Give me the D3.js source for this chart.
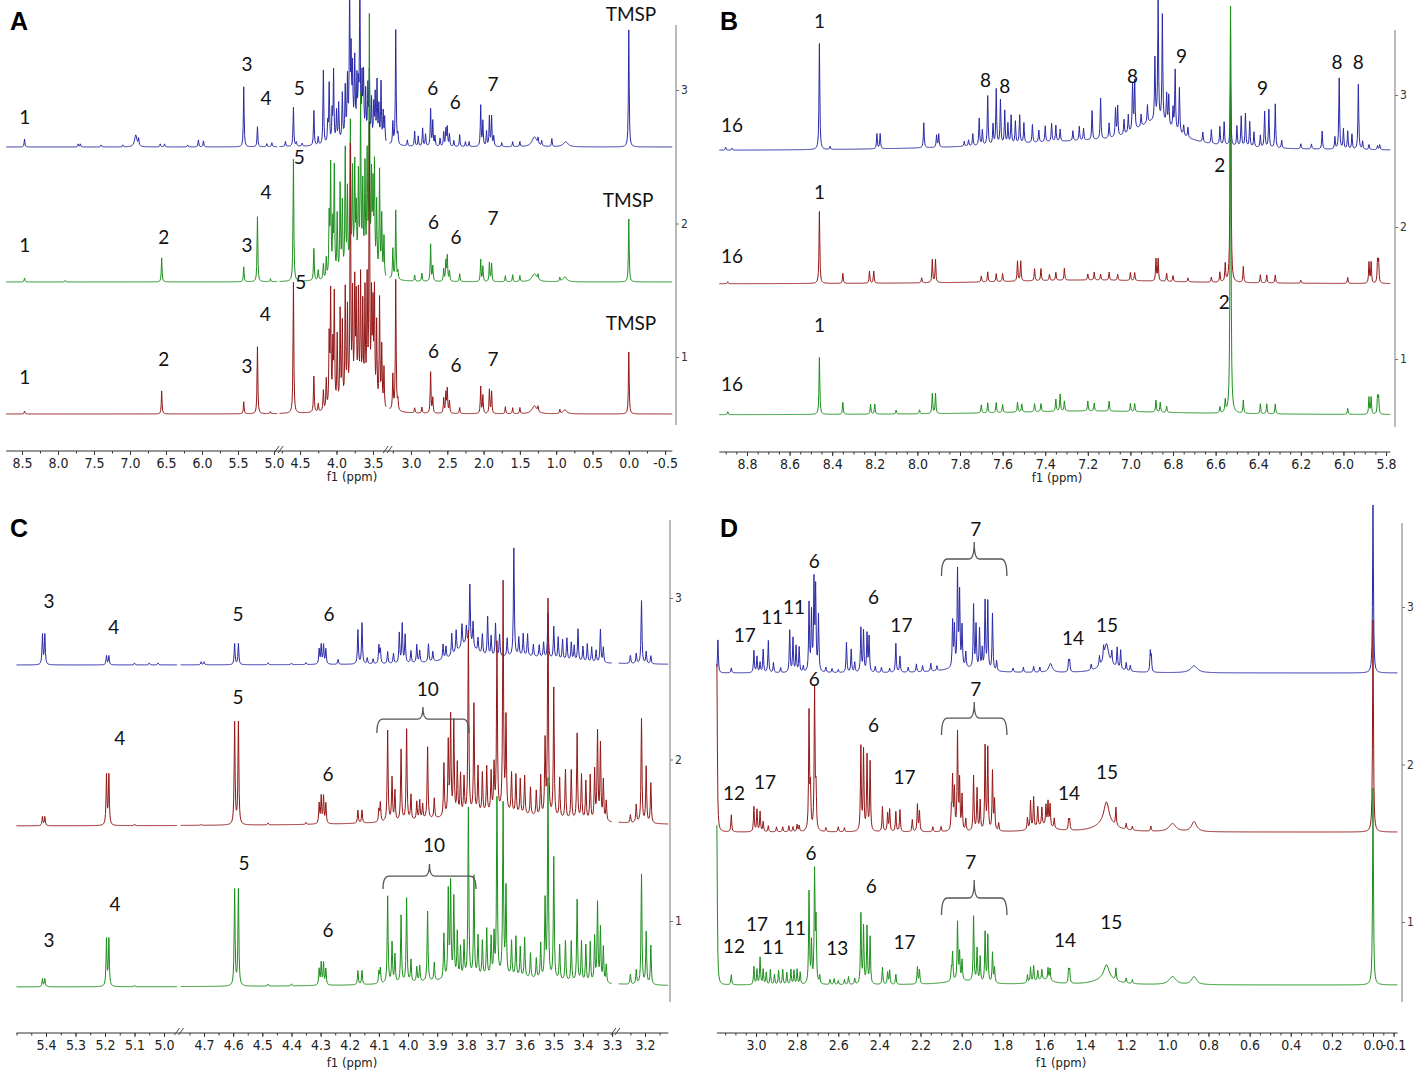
<!DOCTYPE html>
<html><head><meta charset="utf-8">
<script src="https://cdn.jsdelivr.net/npm/d3@7"></script>
<style>body{margin:0;background:#fff}</style>
</head><body>
<svg id="c" width="1417" height="1074"></svg>
<script>
// ===== DATA (ppm, intensity a.u. [, half-width ppm]) =====
const A_ticks = [8.5,8.0,7.5,7.0,6.5,6.0,5.5,5.0,4.5,4.0,3.5,3.0,2.5,2.0,1.5,1.0,0.5,0.0,-0.5];
const B_ticks = [8.8,8.6,8.4,8.2,8.0,7.8,7.6,7.4,7.2,7.0,6.8,6.6,6.4,6.2,6.0,5.8];
const C_ticks = [5.4,5.3,5.2,5.1,5.0,4.7,4.6,4.5,4.4,4.3,4.2,4.1,4.0,3.9,3.8,3.7,3.6,3.5,3.4,3.3,3.2];
const D_ticks = [3.0,2.8,2.6,2.4,2.2,2.0,1.8,1.6,1.4,1.2,1.0,0.8,0.6,0.4,0.2,0.0,-0.1];
const stackTicks = [1,2,3];
const unitAU = {A:133.5, B:132, C:161.5, D:157.5};
const A_offsets = [2.573,1.562,0.573];
const B_offsets = [2.576,1.568,0.576];
const C_offsets = [2.585,1.588,0.591];
const D_offsets = [2.581,1.571,0.600];

const A_blue = [[8.465,8],[7.72,3],[7.69,3],[7.40,2],[7.10,2],[6.92,12,0.02],[6.88,7],[6.58,3],[6.52,3],[6.20,2],[6.05,7],[5.98,6],[5.42,60],[5.23,20],[5.10,3],[5.03,4],
 [4.70,5],[4.59,39],[4.55,4],[4.47,3],[4.31,35],[4.25,8],[4.18,74],[4.12,20],[4.10,59],[4.06,30],[4.04,71],[4.00,30],[3.97,37],[3.92,45],[3.88,49],[3.85,55],[3.82,140],[3.80,75],[3.78,60],[3.75,70],[3.72,50],[3.70,40],[3.68,145],[3.65,55],[3.63,60],[3.60,45],[3.57,50],[3.55,65],[3.52,40],[3.49,35],[3.47,45],[3.445,59],[3.42,35],[3.39,60],[3.36,30],[3.34,25],[3.75,15,0.15],
 [3.25,22],[3.21,115],[3.18,10],[3.05,6],[2.95,15],[2.90,10],[2.84,18],[2.80,12],[2.73,37],[2.70,25],[2.67,10],[2.60,8],[2.55,14],[2.52,17],[2.50,19],[2.47,12],[2.41,6],[2.33,12],[2.25,5],[2.20,5],[2.04,41],[2.01,25],[1.96,15],[1.92,30],[1.89,30],[1.86,10],[1.75,4],[1.60,5],[1.50,5],[1.30,10,0.04],[1.25,6],[1.20,5],[1.06,8],[0.87,5,0.04],[0.0,117]];
const A_green = [[8.465,4],[7.9,1.5],[6.56,24],[5.42,15],[5.23,65],[5.05,3],
 [4.59,122],[4.31,32],[4.25,10],[4.18,15],[4.14,20],[4.10,60],[4.08,110],[4.05,50],[4.03,107],[3.99,60],[3.95,89],[3.92,70],[3.88,122],[3.85,80],[3.81,145],[3.78,95],[3.75,100],[3.73,55],[3.70,90],[3.67,167],[3.64,80],[3.61,100],[3.58,110],[3.55,249],[3.52,90],[3.50,80],[3.48,105],[3.45,70],[3.41,104],[3.38,60],[3.35,40],[3.70,12,0.18],
 [3.25,30],[3.21,69],[3.18,8],[2.95,6],[2.85,8],[2.73,37],[2.70,15],[2.55,12],[2.52,20],[2.50,25],[2.47,10],[2.33,8],[2.04,22],[2.01,15],[1.92,19],[1.89,18],[1.70,6],[1.60,7],[1.50,6],[1.30,8,0.04],[1.25,5],[0.95,4],[0.88,5,0.03],[0.0,63]];
const A_red = [[8.465,3],[6.56,23],[5.42,12],[5.23,67],[5.05,2],
 [4.59,131],[4.31,36],[4.25,8],[4.18,20],[4.14,30],[4.10,70],[4.08,114],[4.05,60],[4.03,111],[3.99,70],[3.95,94],[3.92,80],[3.88,112],[3.85,90],[3.81,250],[3.78,100],[3.75,110],[3.73,94],[3.70,100],[3.67,117],[3.64,90],[3.61,105],[3.58,115],[3.55,270],[3.52,100],[3.50,90],[3.48,109],[3.45,80],[3.41,107],[3.38,60],[3.35,40],[3.70,15,0.18],
 [3.25,35],[3.21,131],[3.18,10],[2.95,5],[2.85,6],[2.73,41],[2.70,15],[2.55,15],[2.52,20],[2.50,24],[2.47,12],[2.33,6],[2.04,27],[2.01,18],[1.92,24],[1.89,22],[1.70,7],[1.60,6],[1.50,6],[1.30,8,0.04],[1.25,5],[0.95,4],[0.88,4,0.03],[0.0,62]];

const B_blue = [[8.90,3],[8.87,2],[8.46,106],[8.41,3],[8.19,15],[8.175,15],[7.97,25],[7.91,12],[7.90,13],[7.78,5],[7.76,6],[7.74,12],[7.71,27],[7.695,15],[7.67,49],[7.645,20],[7.63,55],[7.61,44],[7.59,33],[7.575,20],[7.56,28],[7.54,22],[7.52,28],[7.50,20],[7.46,18],[7.43,12],[7.40,16],[7.37,18],[7.35,16],[7.33,12],[7.27,10],[7.24,14],[7.22,12],[7.18,29],[7.14,41],[7.10,15],[7.07,28],[7.06,30],[7.03,15],[7.01,18],[6.99,47],[6.98,49],[6.95,12],[6.92,18],[6.885,62],[6.87,120],[6.85,107],[6.83,30],[6.82,30],[6.80,20],[6.79,60],[6.77,45],[6.75,10],[6.73,10],[6.66,10],[6.62,14],[6.58,18],[6.56,23],[6.53,61],[6.50,20],[6.48,30],[6.46,33],[6.44,25],[6.42,15],[6.39,12],[6.37,36],[6.35,38],[6.32,44],[6.29,8],[6.20,5],[6.15,5],[6.10,18],[6.04,12],[6.02,71],[6.00,20],[5.98,18],[5.96,15],[5.93,65],[5.91,8],[5.88,5],[5.84,4],[5.83,5],[6.88,25,0.12],[7.3,8,0.5]];
const B_red = [[8.89,2],[8.46,72],[8.35,10],[8.225,12],[8.205,12],[7.98,5],[7.93,23],[7.915,23],[7.70,6],[7.67,10],[7.63,8],[7.60,8],[7.53,20],[7.515,20],[7.45,12],[7.42,12],[7.38,6],[7.35,8],[7.31,12],[7.20,6],[7.17,8],[7.14,6],[7.10,8],[7.06,6],[7.00,8],[6.98,8],[6.88,22],[6.87,22],[6.83,8],[6.80,6],[6.73,4],[6.62,5],[6.58,10],[6.555,18],[6.53,276],[6.47,16],[6.39,8],[6.36,8],[6.32,8],[6.20,3],[5.98,6],[5.88,21],[5.87,21],[5.84,22],[5.835,22],[7.2,4,0.5]];
const B_green = [[8.89,3],[8.46,57],[8.35,12],[8.22,10],[8.20,10],[8.1,4],[7.99,4],[7.93,20],[7.915,20],[7.70,8],[7.67,10],[7.63,10],[7.60,8],[7.53,10],[7.51,8],[7.45,8],[7.42,8],[7.35,12],[7.33,17],[7.31,10],[7.20,10],[7.17,8],[7.10,10],[7.00,8],[6.98,8],[6.88,12],[6.86,10],[6.83,6],[6.58,6],[6.555,12],[6.53,407],[6.47,13],[6.39,10],[6.36,10],[6.32,10],[5.98,6],[5.88,17],[5.87,17],[5.84,17],[5.835,17],[7.2,4,0.5]];

const C_blue = [[5.412,30],[5.404,30],[5.195,9],[5.187,9],[5.10,2],[5.05,2],[5.02,2],
 [4.71,3],[4.70,3],[4.595,21],[4.582,21],[4.48,2],[4.40,1.5],[4.35,2],[4.305,15],[4.298,19],[4.29,19],[4.282,15],[4.24,5],[4.172,34],[4.158,41],[4.14,6],[4.12,5],[4.10,18],[4.095,14],[4.07,12],[4.05,10],[4.03,30],[4.02,39],[4.01,28],[3.99,12],[3.97,18],[3.96,12],[3.93,18],[3.915,10],[3.88,15],[3.87,12],[3.85,22],[3.835,22],[3.815,22],[3.80,17],[3.788,60],[3.777,25],[3.76,14],[3.745,20],[3.727,39],[3.715,20],[3.70,33],[3.686,22],[3.66,18],[3.637,108],[3.62,18],[3.605,22],[3.59,22],[3.57,12],[3.55,12],[3.535,15],[3.52,45],[3.50,32],[3.485,22],[3.47,20],[3.455,22],[3.44,18],[3.43,15],[3.417,32],[3.40,15],[3.385,18],[3.37,15],[3.355,12],[3.34,33],[3.33,15],[3.8,18,0.04],[3.6,8,0.15],
 [3.25,8],[3.23,10],[3.212,63],[3.196,12],[3.18,8]];
const C_red = [[5.412,9],[5.404,9],[5.195,50],[5.187,50],[5.10,1.5],
 [4.71,1],[4.595,102],[4.582,102],[4.48,2],[4.35,2],[4.305,20],[4.298,27],[4.29,27],[4.282,20],[4.172,13],[4.158,13],[4.10,12],[4.095,19],[4.07,91],[4.055,43],[4.045,30],[4.024,71],[4.005,91],[3.99,25],[3.97,18],[3.96,19],[3.95,15],[3.933,72],[3.91,20],[3.877,53],[3.862,73],[3.854,98],[3.843,93],[3.831,51],[3.82,40],[3.808,36],[3.793,183],[3.774,109],[3.76,46],[3.745,40],[3.73,46],[3.715,40],[3.705,46],[3.695,169],[3.674,229],[3.664,93],[3.645,40],[3.63,39],[3.615,35],[3.60,39],[3.58,28],[3.56,25],[3.545,40],[3.53,74],[3.52,216],[3.50,129],[3.48,40],[3.46,49],[3.44,49],[3.42,86],[3.405,45],[3.39,39],[3.375,45],[3.36,50],[3.35,88],[3.34,76],[3.33,40],[3.32,20],[3.7,12,0.25],
 [3.25,8],[3.23,18],[3.212,104],[3.196,56],[3.18,40]];
const C_green = [[5.412,8],[5.404,8],[5.195,47],[5.187,47],[5.10,1.5],
 [4.595,96],[4.582,96],[4.48,2],[4.40,2],[4.305,16],[4.298,22],[4.29,22],[4.282,16],[4.172,14],[4.158,14],[4.10,12],[4.095,15],[4.07,87],[4.055,40],[4.045,28],[4.024,67],[4.005,84],[3.99,22],[3.97,15],[3.96,16],[3.933,70],[3.91,18],[3.877,45],[3.862,87],[3.854,94],[3.843,80],[3.831,45],[3.82,30],[3.808,35],[3.793,169],[3.774,100],[3.76,40],[3.745,35],[3.73,47],[3.715,38],[3.705,40],[3.695,177],[3.674,171],[3.664,87],[3.645,35],[3.63,40],[3.615,30],[3.60,40],[3.58,25],[3.56,20],[3.545,35],[3.53,77],[3.52,199],[3.50,122],[3.48,35],[3.46,40],[3.44,40],[3.42,82],[3.405,40],[3.39,37],[3.375,40],[3.36,45],[3.35,79],[3.34,54],[3.33,35],[3.32,18],[3.7,10,0.25],
 [3.25,10],[3.23,14],[3.212,110],[3.196,52],[3.18,39]];

const D_blue = [[3.185,33],[3.12,5],[3.01,22],[2.995,16],[2.98,10],[2.965,23],[2.94,32],[2.915,10],[2.88,5],[2.836,42],[2.82,34],[2.805,26],[2.79,25],[2.77,6],[2.742,68],[2.73,58],[2.718,88],[2.71,81],[2.696,56],[2.66,5],[2.63,4],[2.60,3],[2.56,30],[2.537,23],[2.52,10],[2.49,44],[2.477,41],[2.46,38],[2.45,35],[2.42,6],[2.39,5],[2.35,4],[2.32,29],[2.30,16],[2.26,5],[2.22,8],[2.19,6],[2.15,8],[2.12,5],[2.044,46],[2.035,40],[2.02,95],[2.01,73],[1.998,40],[1.98,15],[1.942,63],[1.93,43],[1.913,40],[1.90,20],[1.886,68],[1.873,68],[1.85,57],[1.83,10],[1.75,4],[1.70,5],[1.65,6],[1.62,5],[1.568,9,0.01],[1.48,11],[1.475,11],[1.37,6],[1.33,10],[1.31,12],[1.296,21,0.012],[1.27,12],[1.244,20],[1.227,19],[1.20,8],[1.18,6],[1.083,20],[1.078,15],[0.87,7,0.02],[0.0,168],[1.29,8,0.05],[2.0,5,0.1]];
const D_red = [[3.19,168],[3.12,17],[3.01,25],[2.995,22],[2.98,20],[2.965,10],[2.94,6],[2.90,5],[2.87,5],[2.84,6],[2.82,5],[2.80,7],[2.79,6],[2.742,118],[2.735,40],[2.715,140],[2.708,40],[2.66,4],[2.60,5],[2.57,4],[2.49,84],[2.477,80],[2.46,75],[2.445,69],[2.385,25],[2.36,18],[2.35,22],[2.32,20],[2.30,22],[2.24,12],[2.215,27],[2.205,20],[2.14,5],[2.10,5],[2.05,20],[2.044,52],[2.035,40],[2.02,97],[2.01,49],[1.998,35],[1.98,12],[1.942,55],[1.925,42],[1.91,30],[1.886,84],[1.873,82],[1.85,59],[1.84,30],[1.82,8],[1.68,12],[1.665,28],[1.65,31],[1.63,20],[1.61,18],[1.59,20],[1.58,24],[1.57,22],[1.55,10],[1.48,10],[1.475,10],[1.296,22,0.015],[1.25,18],[1.20,6],[1.17,4],[1.08,5],[0.975,8,0.02],[0.87,10,0.015],[0.0,212],[1.3,8,0.06],[1.6,6,0.05]];
const D_green = [[3.19,160],[3.12,10],[3.01,18],[2.995,15],[2.98,27],[2.965,15],[2.95,12],[2.93,15],[2.91,10],[2.89,14],[2.87,15],[2.85,12],[2.83,15],[2.815,14],[2.80,15],[2.785,12],[2.742,92],[2.73,40],[2.715,110],[2.708,60],[2.69,8],[2.64,5],[2.62,6],[2.60,4],[2.57,5],[2.55,8],[2.52,6],[2.49,70],[2.477,57],[2.46,57],[2.445,47],[2.385,17],[2.36,12],[2.35,14],[2.32,10],[2.215,17],[2.205,14],[2.05,12],[2.044,28],[2.02,58],[2.01,27],[1.998,20],[1.942,65],[1.925,33],[1.91,25],[1.886,50],[1.873,47],[1.85,30],[1.84,15],[1.68,8],[1.665,15],[1.65,16],[1.63,10],[1.61,10],[1.58,12],[1.57,12],[1.48,13],[1.475,13],[1.296,14,0.015],[1.25,12],[1.20,5],[1.17,4],[0.975,8,0.02],[0.87,8,0.015],[0.0,197],[1.3,6,0.06],[1.6,5,0.05],[2.0,4,0.1]];

// labels: [text, ppm, spectrum index, height above that baseline (a.u.)]
const A_labels = [["TMSP",-0.03,0,133],["TMSP",0.01,1,82],["TMSP",-0.03,2,91],
 ["1",8.46,0,30],["1",8.46,1,37],["1",8.46,2,37],["2",6.53,1,45],["2",6.53,2,55],
 ["3",5.375,0,83],["3",5.375,1,37],["3",5.375,2,48],["4",5.11,0,49],["4",5.11,1,90],["4",5.12,2,100],
 ["5",4.51,0,59],["5",4.51,1,125],["5",4.49,2,132],["6",2.70,0,59],["6",2.69,1,60],["6",2.69,2,63],
 ["6",2.39,0,45],["6",2.38,1,45],["6",2.38,2,49],["7",1.87,0,63],["7",1.87,1,64],["7",1.87,2,55]];
const B_labels = [["1",8.46,0,130],["1",8.46,1,92],["1",8.46,2,90],["16",8.87,0,26],["16",8.87,1,28],["16",8.87,2,31],
 ["8",7.68,0,71],["8",7.59,0,65],["8",6.99,0,75],["8",6.03,0,89],["8",5.93,0,89],["9",6.76,0,95],["9",6.38,0,63],
 ["2",6.58,1,119],["2",6.56,2,113]];
const C_labels = [["3",5.39,0,64],["3",5.39,2,47],["4",5.17,0,38],["4",5.15,1,88],["4",5.166,2,83],
 ["5",4.583,0,51],["5",4.583,1,129],["5",4.563,2,124],["6",4.271,0,51],["6",4.275,1,52],["6",4.275,2,57],
 ["10",3.932,1,137],["10",3.911,2,142]];
const D_labels = [["17",3.054,0,38],["11",2.922,0,56],["11",2.815,0,66],["6",2.717,0,112],["6",2.429,0,76],["17",2.293,0,48],["7",1.932,0,144],["14",1.459,0,35],["15",1.293,0,48],
 ["12",3.107,1,39],["17",2.956,1,50],["6",2.717,1,153],["6",2.429,1,107],["17",2.278,1,55],["7",1.932,1,143],["14",1.478,1,39],["15",1.293,1,60],
 ["12",3.107,2,39],["17",2.995,2,61],["11",2.917,2,38],["11",2.81,2,57],["6",2.732,2,132],["13",2.605,2,37],["6",2.439,2,99],["17",2.278,2,43],["7",1.956,2,123],["14",1.498,2,45],["15",1.273,2,63]];
// brackets: [ppmLeft, ppmRight, spectrum, hLine, hEnds, hTip]
const C_brackets = [[4.107,3.791,1,107,93,119],[4.086,3.767,2,111,98,123]];
const D_brackets = [[2.098,1.78,0,114,97,131],[2.098,1.78,1,114,97,130],[2.098,1.78,2,87,70,105]];

// ===== LAYOUT =====
const BLUE='#2a2aa6', GREEN='#1d8f1d', RED='#931717';
const panels = [
 {key:'A', segs:[[8.72,4.95,6.16,277.6],[4.78,3.32,279.56,386.14],[3.30,-0.6,389.22,672.36]], ticks:A_ticks, minor:0.25,
  axisY:451, f1:[352,481], right:{x:676,y0:25,y1:425}, tickPx:[357,90], letter:['A',10,30],
  spectra:[A_blue,A_green,A_red], colors:[BLUE,GREEN,RED], offsets:A_offsets, w0:0.006, labels:A_labels, brackets:[]},
 {key:'B', segs:[[8.93,5.78,719.3,1390.3]], ticks:B_ticks, minor:0.05,
  axisY:452, f1:[1057,482], right:{x:1395,y0:30,y1:427}, tickPx:[359,95], letter:['B',720,30],
  spectra:[B_blue,B_red,B_green], colors:[BLUE,RED,GREEN], offsets:B_offsets, w0:0.0022, labels:B_labels, brackets:[]},
 {key:'C', segs:[[5.50,4.955,16.5,177.3],[4.78,3.30,180.7,612.1],[3.29,3.12,618.7,668.4]], ticks:C_ticks, minor:0.05,
  axisY:1033, f1:[352,1067], right:{x:670,y0:520,y1:1002}, tickPx:[921,598], letter:['C',10,537],
  spectra:[C_blue,C_red,C_green], colors:[BLUE,RED,GREEN], offsets:C_offsets, w0:0.0018, labels:C_labels, brackets:C_brackets},
 {key:'D', segs:[[3.19,-0.12,716.9,1397.7]], ticks:D_ticks, minor:0.05,
  axisY:1033, f1:[1061,1067], right:{x:1402,y0:523,y1:1002}, tickPx:[922,607], letter:['D',720,537],
  spectra:[D_blue,D_red,D_green], colors:[BLUE,RED,GREEN], offsets:D_offsets, w0:0.0024, labels:D_labels, brackets:D_brackets}
];

const svg = d3.select('#c');
const fmt = v => (Math.abs(v)<1e-9?0:v).toFixed(1);
function intensity(p, peaks, w0){
  let s=0;
  for(const pk of peaks){ const w=pk[2]||w0; const d=(p-pk[0])/w; s+=pk[1]/(1+d*d); }
  return s;
}

panels.forEach(P=>{
  const g = svg.append('g');
  const unit = unitAU[P.key];
  const y = d3.scaleLinear().domain([1,3]).range(P.tickPx);
  const xs = P.segs.map(s=>d3.scaleLinear().domain([s[0],s[1]]).range([s[2],s[3]]));
  const inSeg = (v,s)=> v<=Math.max(s[0],s[1])+1e-6 && v>=Math.min(s[0],s[1])-1e-6;
  const xOf = v => { for(let i=0;i<P.segs.length;i++) if(inSeg(v,P.segs[i])) return xs[i](v); return xs[0](v); };

  // spectra
  P.spectra.forEach((peaks,si)=>{
    P.segs.forEach((s,i)=>{
      const sc = xs[i];
      const pts = [];
      for(let px=s[2]; px<=s[3]; px+=0.5) pts.push(sc.invert(px));
      peaks.forEach(pk=>{ if(inSeg(pk[0],s) && !pk[2]) pts.push(pk[0]); });
      pts.sort((a,b)=>b-a);
      const data = pts.map(p=>({p, v:P.offsets[si] + intensity(p,peaks,P.w0)/unit}));
      g.append('path').datum(data)
        .attr('fill','none').attr('stroke',P.colors[si]).attr('stroke-width',1)
        .attr('stroke-linejoin','round')
        .attr('d', d3.line().x(d=>sc(d.p)).y(d=>y(d.v)));
    });
  });

  // brackets
  P.brackets.forEach(b=>{
    const xl=xOf(b[0]), xr=xOf(b[1]), xc=(xl+xr)/2;
    const off=P.offsets[b[2]];
    const yl=y(off+b[3]/unit), ye=y(off+b[4]/unit), yt=y(off+b[5]/unit);
    const path = `M${xl},${ye} Q${xl},${yl} ${xl+6},${yl} L${xc-5},${yl} Q${xc},${yl} ${xc},${yt} Q${xc},${yl} ${xc+5},${yl} L${xr-6},${yl} Q${xr},${yl} ${xr},${ye}`;
    g.append('path').attr('d',path).attr('fill','none').attr('stroke','#555').attr('stroke-width',1.3);
  });

  // peak labels
  g.selectAll('text.lbl').data(P.labels).join('text').attr('class','lbl')
    .attr('x',d=>xOf(d[1])).attr('y',d=>y(P.offsets[d[2]]+d[3]/unit)).attr('dy','0.36em')
    .attr('text-anchor','middle').attr('font-family','Lato, "Open Sans", sans-serif')
    .attr('font-size',19).attr('fill','#111').text(d=>d[0]);

  // bottom axis
  const x0=P.segs[0][2], x1=P.segs[P.segs.length-1][3];
  g.append('line').attr('x1',x0).attr('x2',x1).attr('y1',P.axisY).attr('y2',P.axisY).attr('stroke','#333').attr('stroke-width',1);
  P.segs.forEach((s,i)=>{
    const lo=Math.min(s[0],s[1]), hi=Math.max(s[0],s[1]);
    const minors=[]; for(let k=Math.ceil(lo/P.minor-1e-6); k<=Math.floor(hi/P.minor+1e-6); k++) minors.push(k*P.minor);
    const gm = g.append('g').attr('transform',`translate(0,${P.axisY})`)
      .call(d3.axisBottom(xs[i]).tickValues(minors).tickSize(2.5).tickFormat(''));
    gm.select('.domain').remove(); gm.selectAll('line').attr('stroke','#333');
    const majors = P.ticks.filter(v=>inSeg(v,s));
    const ga = g.append('g').attr('transform',`translate(0,${P.axisY})`)
      .call(d3.axisBottom(xs[i]).tickValues(majors).tickSize(4).tickPadding(3).tickFormat(fmt));
    ga.select('.domain').remove(); ga.selectAll('line').attr('stroke','#333');
    ga.selectAll('text').attr('font-family','"DejaVu Sans Condensed","Liberation Sans Narrow",sans-serif')
      .attr('font-size',14).attr('fill','#222');
  });
  // break marks
  for(let i=0;i<P.segs.length-1;i++){
    const bx=(P.segs[i][3]+P.segs[i+1][2])/2;
    [-2,2].forEach(o=>g.append('line').attr('x1',bx+o-2.5).attr('x2',bx+o+2.5)
      .attr('y1',P.axisY+2).attr('y2',P.axisY-5).attr('stroke','#333').attr('stroke-width',0.9));
  }
  g.append('text').attr('x',P.f1[0]).attr('y',P.f1[1]).attr('text-anchor','middle')
    .attr('font-family','"DejaVu Sans Condensed","Liberation Sans Narrow",sans-serif')
    .attr('font-size',13).attr('fill','#222').text('f1 (ppm)');

  // right stacking axis
  g.append('line').attr('x1',P.right.x).attr('x2',P.right.x).attr('y1',P.right.y0).attr('y2',P.right.y1)
    .attr('stroke','#777').attr('stroke-width',1);
  const gr = g.append('g').attr('transform',`translate(${P.right.x},0)`)
    .call(d3.axisRight(y).tickValues(stackTicks).tickSize(3).tickPadding(2).tickFormat(d3.format('d')));
  gr.select('.domain').remove(); gr.selectAll('line').attr('stroke','#777');
  gr.selectAll('text').attr('font-family','"DejaVu Sans Condensed",sans-serif').attr('font-size',12).attr('fill','#333');

  // panel letter
  g.append('text').attr('x',P.letter[1]).attr('y',P.letter[2]).attr('font-family','"Liberation Sans", Arial, sans-serif')
    .attr('font-weight','bold').attr('font-size',25).attr('fill','#000').text(P.letter[0]);
});
</script>
</body></html>
